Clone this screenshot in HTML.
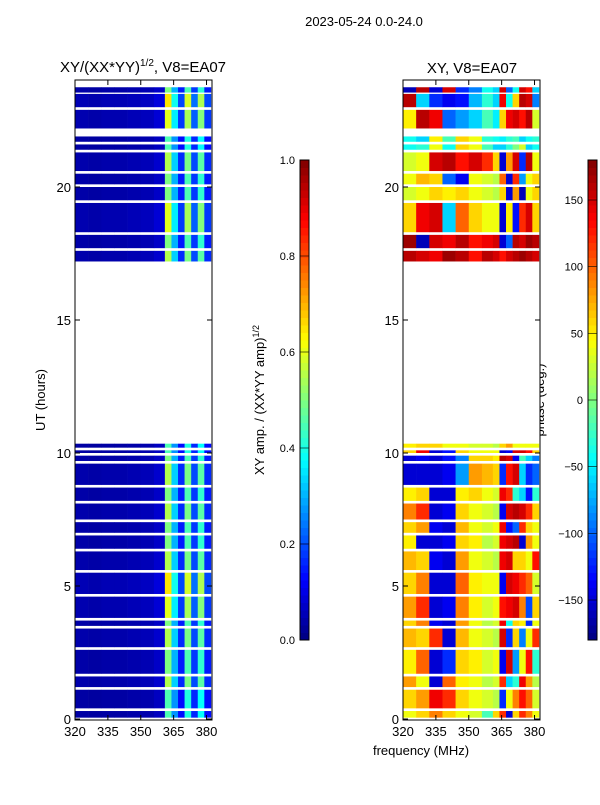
<!DOCTYPE html>
<html><head><meta charset="utf-8">
<style>
body{margin:0;background:#fff;font-family:"Liberation Sans",sans-serif;}
svg text{font-family:"Liberation Sans",sans-serif;fill:#000;}
</style></head>
<body>
<svg id="fig" width="600" height="800" viewBox="0 0 600 800" xmlns="http://www.w3.org/2000/svg">
<rect x="0" y="0" width="600" height="800" fill="#fff"/>
<text x="364" y="26" font-size="13" text-anchor="middle">2023-05-24 0.0-24.0</text>
<text x="143" y="72" font-size="15" text-anchor="middle">XY/(XX*YY)<tspan font-size="10" dy="-6">1/2</tspan><tspan dy="6">, V8=EA07</tspan></text>
<text x="472" y="73" font-size="15" text-anchor="middle">XY, V8=EA07</text>
<text x="0" y="0" font-size="13" text-anchor="middle" transform="translate(45,400) rotate(-90)">UT (hours)</text>
<text x="421" y="755" font-size="13" text-anchor="middle">frequency (MHz)</text>
<text x="0" y="0" font-size="13" text-anchor="middle" transform="translate(264,400) rotate(-90)">XY amp. / (XX*YY amp)<tspan font-size="9" dy="-5">1/2</tspan></text>
<text x="0" y="0" font-size="13" text-anchor="middle" transform="translate(544,400) rotate(-90)">phase (deg.)</text>
<g id="left"></g>
<g id="right"></g>
<g id="cbars"></g>
</svg>
<script>
// ---- data ----
const segmentsLow = [[0.05,0.3],[0.4,1.1],[1.2,1.6],[1.7,2.6],[2.7,3.4],[3.5,3.7],[3.8,4.6],[4.7,5.5],[5.6,6.3],[6.4,6.9],[7.0,7.4],[7.5,8.1],[8.2,8.7],[8.8,9.6],[9.7,9.9],[10.0,10.1],[10.2,10.35]];
const segmentsHigh = [[17.2,17.6],[17.7,18.2],[18.3,19.4],[19.5,20.0],[20.1,20.5],[20.6,21.3],[21.4,21.6],[21.7,21.9],[22.2,22.9],[23.0,23.5],[23.55,23.75]];
const freqEdges = [320,326,332,338,344,350,356,361,364,367,370,373,376,379,382];
const ampProfile = [0.04,0.035,0.04,0.04,0.045,0.05,0.07,0.5,0.3,0.15,0.45,0.18,0.42,0.15];
const ampGainLow = [0.9,0.9,1.1,1.0,1.1,1.0,1.2,1.3,1.1,1.0,1.0,1.1,1.0,1.1,1.0,0.9,0.9];
const ampGainHigh = [1.1,1.0,1.2,1.0,1.0,1.1,0.9,0.9,1.2,1.3,1.0];
const phaseLow = [
 [40,60,90,60,40,30,-20,60,120,-150,60,120,90,40],
 [60,80,140,120,60,40,30,20,-120,40,90,130,100,30],
 [80,40,-150,100,50,40,20,30,120,-60,-30,140,80,20],
 [50,100,-150,-120,60,50,30,40,-140,150,-80,40,130,-30],
 [70,60,120,-150,70,40,30,20,150,-120,60,-90,40,120],
 [60,90,-140,-150,80,40,20,30,140,-40,60,50,-120,40],
 [80,120,-150,-140,90,50,30,40,130,140,150,90,-110,60],
 [60,90,-150,-150,100,50,40,40,-140,150,140,120,100,30],
 [70,60,-140,-150,80,40,30,20,140,150,60,60,40,130],
 [50,-150,-150,-140,60,50,20,30,140,150,160,-150,80,40],
 [60,80,-140,-150,70,40,30,40,140,-130,-100,120,60,40],
 [90,120,-150,-140,60,40,30,20,-140,150,160,150,120,60],
 [50,60,-150,-150,50,60,40,30,140,120,-30,-60,-130,-30],
 [-150,-150,-150,-140,-80,80,70,60,-120,130,150,-60,-120,-100],
 [-150,-140,-150,-130,-90,60,60,50,160,150,-140,-20,-60,-90],
 [60,140,-150,-130,60,40,40,40,-150,-140,150,150,130,60],
 [50,60,60,40,40,30,30,20,60,80,40,40,40,40]
];
const phaseHigh = [
 [160,150,140,170,160,130,160,150,130,150,160,170,160,150],
 [170,-160,150,140,160,130,140,150,-150,-100,160,150,170,160],
 [60,140,150,-60,100,60,40,40,-150,50,-130,120,150,60],
 [30,40,60,50,60,40,30,20,60,-150,80,-160,40,60],
 [40,70,60,-100,-140,40,30,20,100,-150,120,-80,40,60],
 [30,40,150,160,130,150,120,60,-150,80,150,-120,160,40],
 [-40,-30,40,-40,60,40,-20,-60,-60,-30,0,30,-60,-40],
 [-40,-60,50,-20,60,40,-30,-40,-50,-30,-20,-60,-40,-30],
 [50,160,140,-100,-80,-60,-20,-50,60,140,150,130,160,30],
 [160,-60,-120,-140,-130,-70,-30,-60,140,-40,60,160,150,-90],
 [-160,160,-150,150,-120,-90,-40,-60,150,-100,-40,150,130,-60]
];
const yTicks = [0,5,10,15,20];
const xTicks = [320,335,350,365,380];
const ampTicks = [0.0,0.2,0.4,0.6,0.8,1.0];
const phaseTicks = [-150,-100,-50,0,50,100,150];

// ---- scales ----
const Y0=719, PXH=26.6;
function yScale(h){return Y0-h*PXH;}
function xScale(f,x0){return x0+(f-320)*137/62.5;}
function jet(v){v=Math.max(0,Math.min(1,v));
 const r=Math.max(0,Math.min(1,1.5-Math.abs(4*v-3)));
 const g=Math.max(0,Math.min(1,1.5-Math.abs(4*v-2)));
 const b=Math.max(0,Math.min(1,1.5-Math.abs(4*v-1)));
 return 'rgb('+Math.round(r*255)+','+Math.round(g*255)+','+Math.round(b*255)+')';}
const NS='http://www.w3.org/2000/svg';
function mk(tag,attrs,parent){const e=document.createElementNS(NS,tag);for(const k in attrs)e.setAttribute(k,attrs[k]);parent.appendChild(e);return e;}

function drawPanel(g,x0,valueFn,prefix){
 const pw=137, top=80, bot=720;
 mk('rect',{x:x0,y:top,width:pw,height:bot-top,fill:'#fff'},g);
 const sets=[[segmentsLow,'low'],[segmentsHigh,'high']];
 sets.forEach(([segs,tag])=>{
  segs.forEach((s,i)=>{
   for(let c=0;c<freqEdges.length-1;c++){
    const xa=xScale(freqEdges[c],x0), xb=xScale(freqEdges[c+1],x0);
    const r=mk('rect',{x:xa,y:yScale(s[1]),width:xb-xa+0.3,height:yScale(s[0])-yScale(s[1]),fill:valueFn(tag,i,c)},g);
    
    
   }
  });
 });
 const fr=mk('rect',{x:x0,y:top,width:pw,height:bot-top,fill:'none',stroke:'#000','stroke-width':1},g);
 
 
 yTicks.forEach(t=>{const y=yScale(t);
  mk('line',{x1:x0,x2:x0+5,y1:y,y2:y,stroke:'#000'},g);
  mk('line',{x1:x0+pw-5,x2:x0+pw,y1:y,y2:y,stroke:'#000'},g);
  const tx=mk('text',{x:x0-4,y:y+5,'font-size':13,'text-anchor':'end'},g);tx.textContent=t;
  
  
 });
 xTicks.forEach(t=>{const x=xScale(t,x0);
  mk('line',{x1:x,x2:x,y1:bot,y2:bot-5,stroke:'#000'},g);
  mk('line',{x1:x,x2:x,y1:top,y2:top+5,stroke:'#000'},g);
  const tx=mk('text',{x:x,y:bot+16,'font-size':13,'text-anchor':'middle'},g);tx.textContent=t;
  
  
 });
}
drawPanel(document.getElementById('left'),75,(tag,i,c)=>{
 const gain=tag==='low'?ampGainLow[i]:ampGainHigh[i];
 return jet(ampProfile[c]*gain);},'amp');
drawPanel(document.getElementById('right'),403,(tag,i,c)=>{
 const p=tag==='low'?phaseLow[i][c]:phaseHigh[i][c];
 return jet((p+180)/360);},'phase');

function colorbar(x,ticks,vmin,vmax,fmt,name){
 const g=document.getElementById('cbars');
 const top=160,bot=640,w=9;
 const n=64;
 for(let i=0;i<n;i++){
  const r=mk('rect',{x:x,y:bot-(i+1)*(bot-top)/n,width:w,height:(bot-top)/n+0.5,fill:jet((i+0.5)/n)},g);
  
  
 }
 const fr=mk('rect',{x:x,y:top,width:w,height:bot-top,fill:'none',stroke:'#000'},g);
 
 
 ticks.forEach(t=>{const y=bot-(t-vmin)/(vmax-vmin)*(bot-top);
  mk('line',{x1:x,x2:x+w,y1:y,y2:y,stroke:'#000','stroke-width':0.6},g);
  const tx=mk('text',{x:x-5,y:y+4,'font-size':11,'text-anchor':'end'},g);tx.textContent=fmt(t);
  
  
 });
}
colorbar(300,ampTicks,0,1,t=>t.toFixed(1),'amp-colorbar');
colorbar(588,phaseTicks,-180,180,t=>t<0?'\u2212'+(-t):String(t),'phase-colorbar');
</script>
</body></html>
